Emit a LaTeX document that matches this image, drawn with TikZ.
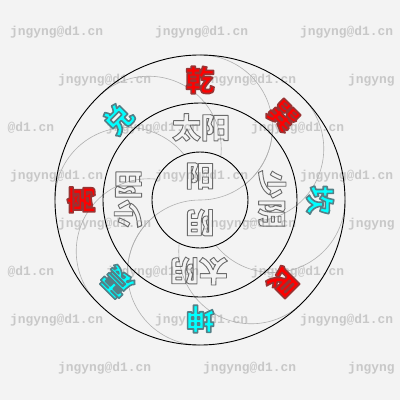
\documentclass[tikz,border=0pt]{standalone}
\usepackage{fontspec}
\newfontfamily\cjk{Noto Sans CJK SC}
\newfontfamily\wmfont{Liberation Mono}
\definecolor{bg}{HTML}{F3F3F3}
\definecolor{wm}{HTML}{C8C8C8}
\definecolor{arcgray}{HTML}{B0B0B0}
\definecolor{redfill}{HTML}{FF0000}
\definecolor{cyanfill}{HTML}{00FFFF}
% outlined text through the PDF text rendering mode
\newcommand\hollowch[1]{\special{pdf:code 0.42 0.42 0.42 RG 0.9 w 1 j 1 Tr}#1\special{pdf:code 0 Tr}}
\newcommand\redch[1]{\textcolor{redfill}{\special{pdf:code 0.6 0.2 0.2 RG 1.6 w 1 j 2 Tr}#1\special{pdf:code 0 Tr}}}
\newcommand\cyanch[1]{\textcolor{cyanfill}{\special{pdf:code 0.33 0.5 0.53 RG 1.6 w 1 j 2 Tr}#1\special{pdf:code 0 Tr}}}
\tikzset{
  wmstyle/.style={font=\wmfont\bfseries\fontsize{12.9}{12.9}\selectfont, text=wm, inner sep=0, anchor=west},
  ring/.style={draw=black, line width=0.9pt},
  arcline/.style={draw=arcgray, line width=0.6pt},
  innerch/.style={font=\cjk\bfseries\fontsize{29}{29}\selectfont, inner sep=0},
  outerch/.style={font=\cjk\bfseries\fontsize{29}{29}\selectfont, inner sep=0}
}
\begin{document}
\begin{tikzpicture}[x=1pt,y=1pt]
\useasboundingbox (-200,-200) rectangle (200,200);
\clip (-200,-200) rectangle (200,200);
\fill[bg] (-200,-200) rectangle (200,200);
% watermark rows (x positions measured from the left edge)
\foreach \i in {0,3,6}{
  \pgfmathsetmacro\yy{200-(32+48*\i)}
  \node[wmstyle] (wa\i) at (-190, \yy) {jngyng@d1.cn};
  \node[wmstyle] (wb\i) at (-45, \yy) {jngyng@d1.cn};
  \node[wmstyle] (wc\i) at (100, \yy) {jngyng@d1.cn};
}
\foreach \i in {1,4,7}{
  \pgfmathsetmacro\yy{200-(32+48*\i)}
  \node[wmstyle] (wa\i) at (-142, \yy) {jngyng@d1.cn};
  \node[wmstyle] (wb\i) at (3, \yy) {jngyng@d1.cn};
  \node[wmstyle] (wc\i) at (148, \yy) {jngyng};
}
\foreach \i in {2,5}{
  \pgfmathsetmacro\yy{200-(32+48*\i)}
  \node[wmstyle] (wa\i) at (-192.5, \yy) {@d1.cn};
  \node[wmstyle] (wb\i) at (-94, \yy) {jngyng@d1.cn};
  \node[wmstyle] (wc\i) at (51, \yy) {jngyng@d1.cn};
}
% swirl arcs (outside the inner circle)
\begin{scope}[even odd rule]
\clip (-200,-200) rectangle (200,200) (0,0) circle (48);
\foreach \k in {0,...,7}{
  \pgfmathsetmacro\ph{45*\k}
  \draw[arcline] (0,0) arc[start angle=\ph+180, end angle=\ph+360, radius=72.5];
}
\end{scope}
% S line through the centre
\coordinate (ctr) at (0,0);
\draw[arcline] (ctr) arc[start angle=270, end angle=360, radius=72.5];
\draw[arcline] (ctr) arc[start angle=90, end angle=180, radius=72.5];
% rings
\node[circle, ring, minimum size=290pt, inner sep=0] (outer) at (0,0) {};
\node[circle, ring, minimum size=194pt, inner sep=0] (middle) at (0,0) {};
\node[circle, ring, minimum size=96pt, inner sep=0] (inner) at (0,0) {};
% center
\node[innerch] (yang) at (0,24) {\hollowch{阳}};
\node[innerch, rotate=180] (yin) at (0,-22.5) {\hollowch{阴}};
% four images
\node[innerch] (taiyang) at (1,72.5) {\hollowch{太阳}};
\node[innerch, rotate=90] (shaoyang) at (-72,1) {\hollowch{少阳}};
\node[innerch, rotate=180] (taiyin) at (-1,-71) {\hollowch{太阴}};
\node[innerch, rotate=-90] (shaoyin) at (72,1) {\hollowch{少阴}};
% trigrams
\node[outerch] (qian) at (0,120) {\redch{乾}};
\node[outerch, rotate=45] (dui) at (-82,81) {\cyanch{兑}};
\node[outerch, rotate=90] (li) at (-119,0) {\redch{离}};
\node[outerch, rotate=135] (zhen) at (-83,-82) {\cyanch{震}};
\node[outerch, rotate=180] (kun) at (0,-119) {\cyanch{坤}};
\node[outerch, rotate=225] (gen) at (83,-82) {\redch{艮}};
\node[outerch, rotate=-90] (kan) at (120,0) {\cyanch{坎}};
\node[outerch, rotate=-45] (xun) at (83,84) {\redch{巽}};
\end{tikzpicture}
\end{document}
